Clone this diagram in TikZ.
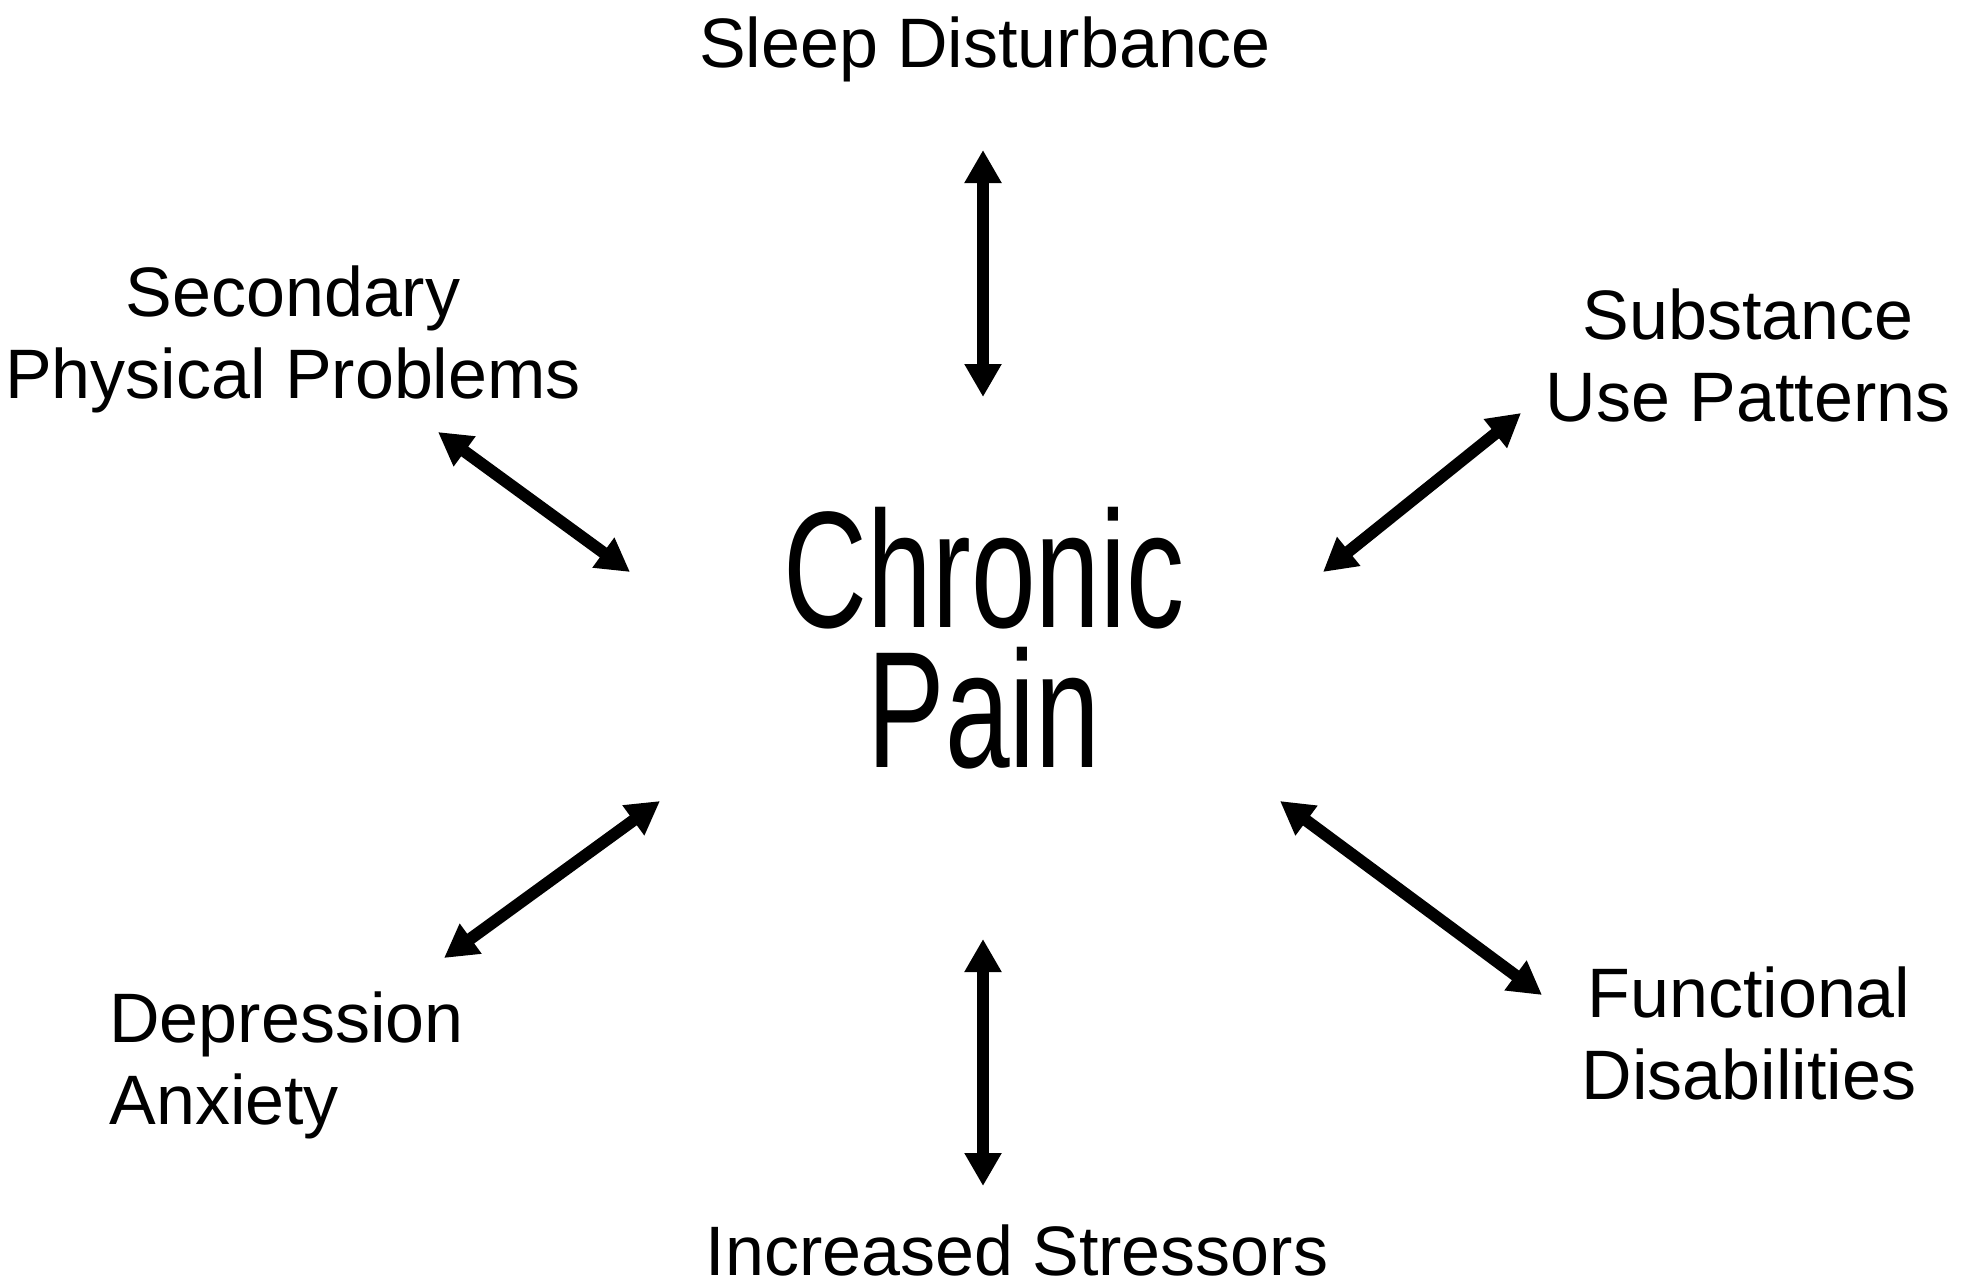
\documentclass[tikz,border=0pt]{standalone}
\usepackage{fontspec}
\setmainfont{Liberation Sans}
\newfontfamily\condfont[FakeStretch=0.70]{Liberation Sans}
\usetikzlibrary{arrows.meta}
\begin{document}
\begin{tikzpicture}[x=0.5pt,y=-0.5pt,
  lbl/.style={font=\fontsize{35pt}{41pt}\selectfont, align=center, inner sep=0pt},
  big/.style={font=\condfont\fontsize{83pt}{70pt}\selectfont, align=center, inner sep=0pt},
  dbl/.style={{Triangle[length=16.5pt,width=17.5pt]}-{Triangle[length=16.5pt,width=17.5pt]}, line width=6pt}]
\useasboundingbox (0,0) rectangle (1963,1284);
\node[big, anchor=base] (cp) at (984,767) {Chronic\\Pain};
\node[lbl, anchor=base] (sleep) at (985,68) {Sleep Disturbance};
\node[lbl, anchor=base] (sec) at (293,398) {Secondary\\Physical Problems};
\node[lbl, anchor=base] (sub) at (1748,421) {Substance\\Use Patterns};
\node[lbl, align=left, anchor=base west] (dep) at (109,1124) {Depression\\Anxiety};
\node[lbl, anchor=base] (fun) at (1749,1099) {Functional\\Disabilities};
\node[lbl, anchor=base] (inc) at (1017,1275) {Increased Stressors};
\coordinate (s1) at (983,150); \coordinate (s2) at (983,397);
\coordinate (i1) at (983,939); \coordinate (i2) at (983,1186);
\coordinate (ul1) at (438,432); \coordinate (ul2) at (630,572);
\coordinate (ur1) at (1521,413); \coordinate (ur2) at (1323,572);
\coordinate (ll1) at (660,801); \coordinate (ll2) at (444,958);
\coordinate (lr1) at (1280,801); \coordinate (lr2) at (1542,995);
\draw[dbl] (s1) -- (s2);
\draw[dbl] (i1) -- (i2);
\draw[dbl] (ul1) -- (ul2);
\draw[dbl] (ur1) -- (ur2);
\draw[dbl] (ll1) -- (ll2);
\draw[dbl] (lr1) -- (lr2);
\end{tikzpicture}
\end{document}
